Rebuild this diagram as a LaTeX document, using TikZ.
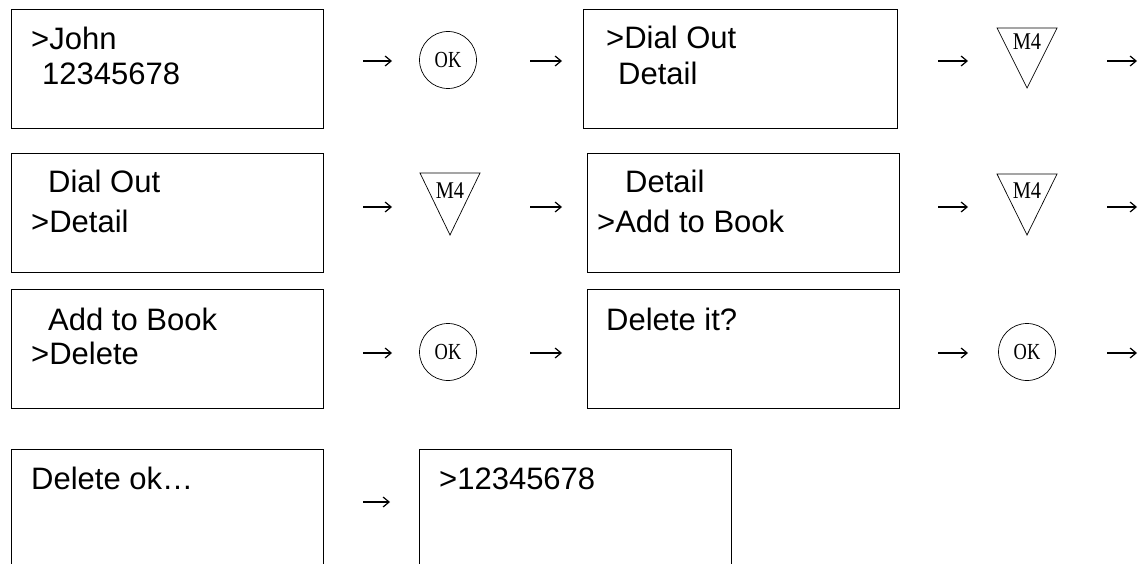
\documentclass[tikz,border=0pt]{standalone}
\usepackage{fontspec}
\usepackage{graphicx}
\setmainfont{Liberation Sans}
\newfontfamily\serifkey{Liberation Serif}
\usetikzlibrary{arrows.meta}
\begin{document}
\begin{tikzpicture}[x=1pt,y=-1pt,
  screen/.style={draw, line width=1.4pt, anchor=north west, inner sep=0pt, minimum height=119pt},
  lcd/.style={anchor=base west, inner sep=0pt, font=\fontsize{31}{37}\selectfont},
  okkey/.style={draw, circle, line width=0.7pt, minimum size=57pt, inner sep=0pt, font=\serifkey\fontsize{23}{23}\selectfont},
  mkey/.style={anchor=base, inner sep=0pt, font=\serifkey\fontsize{24}{24}\selectfont},
  tri/.style={line width=0.7pt, line join=miter},
  flow/.style={line width=1.2pt, -{Straight Barb[length=6pt,width=10pt]}}]
\useasboundingbox (0,0) rectangle (1139,564);
\clip (0,0) rectangle (1139,564);
\fill[white] (0,0) rectangle (1139,564);

% ---------- row 1 ----------
\node[screen, minimum width=312pt] (s1) at (11,9) {};
\node[lcd] (t1a) at (31,50) {>John};
\node[lcd] (t1b) at (42,85) {12345678};
\coordinate (a1s) at (363,61); \coordinate (a1e) at (392,61);
\draw[flow] (a1s) -- (a1e);
\node[okkey] (ok1) at (448,60) {\scalebox{0.8}[1]{OK}};
\coordinate (a2s) at (530,61); \coordinate (a2e) at (562,61);
\draw[flow] (a2s) -- (a2e);
\node[screen, minimum width=314pt] (s2) at (583,9) {};
\node[lcd] (t2a) at (606,49) {>Dial Out};
\node[lcd] (t2b) at (618,85) {Detail};
\coordinate (a3s) at (938,61); \coordinate (a3e) at (968,61);
\draw[flow] (a3s) -- (a3e);
\draw[tri] (997,28) -- (1057,28) -- (1027,88) -- cycle;
\node[mkey] (m1) at (1027,50) {\scalebox{0.85}[1]{M4}};
\coordinate (a4s) at (1107,61); \coordinate (a4e) at (1137,61);
\draw[flow] (a4s) -- (a4e);

% ---------- row 2 ----------
\node[screen, minimum width=312pt] (s3) at (11,153) {};
\node[lcd] (t3a) at (48,193) {Dial Out};
\node[lcd] (t3b) at (31,232) {>Detail};
\coordinate (b1s) at (363,207); \coordinate (b1e) at (392,207);
\draw[flow] (b1s) -- (b1e);
\draw[tri] (420,173) -- (480,173) -- (450,235) -- cycle;
\node[mkey] (m2) at (450,198) {\scalebox{0.85}[1]{M4}};
\coordinate (b2s) at (530,207); \coordinate (b2e) at (562,207);
\draw[flow] (b2s) -- (b2e);
\node[screen, minimum width=312pt] (s4) at (587,153) {};
\node[lcd] (t4a) at (625,193) {Detail};
\node[lcd] (t4b) at (597,232) {>Add to Book};
\coordinate (b3s) at (938,207); \coordinate (b3e) at (968,207);
\draw[flow] (b3s) -- (b3e);
\draw[tri] (997,174) -- (1057,174) -- (1027,235) -- cycle;
\node[mkey] (m3) at (1027,198) {\scalebox{0.85}[1]{M4}};
\coordinate (b4s) at (1107,207); \coordinate (b4e) at (1137,207);
\draw[flow] (b4s) -- (b4e);

% ---------- row 3 ----------
\node[screen, minimum width=312pt] (s5) at (11,289) {};
\node[lcd] (t5a) at (48,330) {Add to Book};
\node[lcd] (t5b) at (31,364) {>Delete};
\coordinate (c1s) at (363,353); \coordinate (c1e) at (392,353);
\draw[flow] (c1s) -- (c1e);
\node[okkey] (ok2) at (448,352) {\scalebox{0.8}[1]{OK}};
\coordinate (c2s) at (530,353); \coordinate (c2e) at (562,353);
\draw[flow] (c2s) -- (c2e);
\node[screen, minimum width=312pt] (s6) at (587,289) {};
\node[lcd] (t6a) at (606,330) {Delete it?};
\coordinate (c3s) at (938,353); \coordinate (c3e) at (968,353);
\draw[flow] (c3s) -- (c3e);
\node[okkey] (ok3) at (1027,352) {\scalebox{0.8}[1]{OK}};
\coordinate (c4s) at (1107,353); \coordinate (c4e) at (1137,353);
\draw[flow] (c4s) -- (c4e);

% ---------- row 4 ----------
\node[screen, minimum width=312pt] (s7) at (11,449) {};
\node[lcd] (t7a) at (31,489) {Delete ok…};
\coordinate (d1s) at (363,502); \coordinate (d1e) at (390,502);
\draw[flow] (d1s) -- (d1e);
\node[screen, minimum width=312pt] (s8) at (419,449) {};
\node[lcd] (t8a) at (439,489) {>12345678};
\end{tikzpicture}
\end{document}
